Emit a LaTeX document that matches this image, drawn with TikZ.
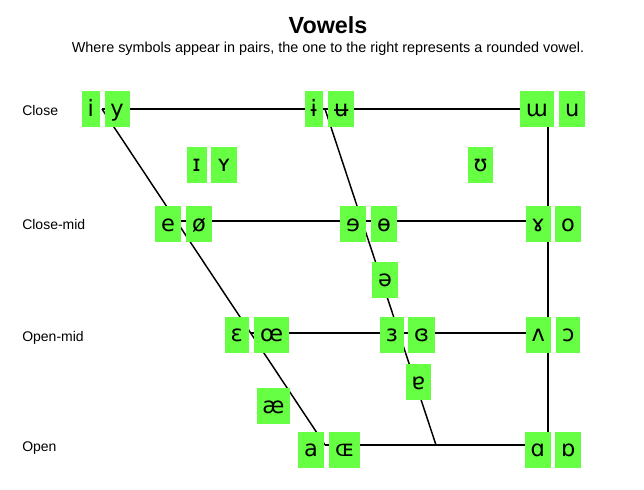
\documentclass[tikz,border=0pt]{standalone}
\usepackage{fontspec}
\setmainfont{Liberation Sans}
\newfontfamily\ipafont{DejaVu Sans}
\definecolor{boxgreen}{RGB}{102,255,68}
\begin{document}
\begin{tikzpicture}[x=0.75pt,y=-0.75pt,
  vowel/.style={fill=boxgreen, text=black, font=\ipafont\fontsize{16.9pt}{20pt}\selectfont,
    inner xsep=4.4pt, inner ysep=0pt, text height=18.75pt, text depth=8.25pt},
  edge/.style={line width=1.1pt, black},
  rowlabel/.style={font=\fontsize{10.5pt}{12pt}\selectfont, anchor=base west, inner sep=0pt},
  titlestyle/.style={font=\bfseries\fontsize{17.5pt}{20pt}\selectfont, anchor=base, inner sep=0pt},
  subtitlestyle/.style={font=\fontsize{10.8pt}{13pt}\selectfont, anchor=base, inner sep=0pt}]
\useasboundingbox (0,0) rectangle (644,490);

% title
\node[titlestyle] (title) at (328,33) {Vowels};
\node[subtitlestyle] (subtitle) at (328,52.5) {Where symbols appear in pairs, the one to the right represents a rounded vowel.};

% row labels
\node[rowlabel] (lclose) at (22,115) {Close};
\node[rowlabel] (lclosemid) at (22,229) {Close-mid};
\node[rowlabel] (lopenmid) at (22,341) {Open-mid};
\node[rowlabel] (lopen) at (22,451) {Open};

% trapezoid vertices
\coordinate (CF) at (102,109);
\coordinate (CC) at (325,109);
\coordinate (CB) at (548,109);
\coordinate (CMF) at (176.3,221);
\coordinate (CMB) at (548,221);
\coordinate (OMF) at (250.7,333);
\coordinate (OMB) at (548,333);
\coordinate (OF) at (325,445);
\coordinate (OC) at (436,445);
\coordinate (OB) at (548,445);

% lines
\draw[edge] (CF) -- (CB);
\draw[edge] (CMF) -- (CMB);
\draw[edge] (OMF) -- (OMB);
\draw[edge] (OF) -- (OB);
\draw[edge] (CF) -- (OF);
\draw[edge] (CC) -- (OC);
\draw[edge] (CB) -- (OB);

% close
\node[vowel, anchor=east] (vi) at (100,109) {i};
\node[vowel, anchor=west] (vy) at (104.3,109) {y};
\node[vowel, anchor=east] (vbari) at (323,109) {ɨ};
\node[vowel, anchor=west] (vbaru) at (328,109) {ʉ};
\node[vowel, anchor=east] (vturnm) at (554,109) {ɯ};
\node[vowel, anchor=west] (vu) at (559,109) {u};

% near-close
\node[vowel, anchor=east] (vsmalli) at (207,164.5) {ɪ};
\node[vowel, anchor=west] (vsmally) at (211,164.5) {ʏ};
\node[vowel] (vupsilon) at (480.5,164.5) {ʊ};

% close-mid
\node[vowel, anchor=east] (ve) at (181,224) {e};
\node[vowel, anchor=west] (voslash) at (186,224) {ø};
\node[vowel, anchor=east] (vreve) at (366,224) {ɘ};
\node[vowel, anchor=west] (vbaro) at (371,224) {ɵ};
\node[vowel, anchor=east] (vramshorn) at (551,224) {ɤ};
\node[vowel, anchor=west] (vo) at (555,224) {o};

% mid
\node[vowel] (vschwa) at (385,279.5) {ə};

% open-mid
\node[vowel, anchor=east] (vepsilon) at (249,334.5) {ɛ};
\node[vowel, anchor=west] (voe) at (254,334.5) {œ};
\node[vowel, anchor=east] (vrevepsilon) at (404,334.5) {ɜ};
\node[vowel, anchor=west] (vclosedrev) at (408,334.5) {ɞ};
\node[vowel, anchor=east] (vturnv) at (551,334.5) {ʌ};
\node[vowel, anchor=west] (vopeno) at (556,334.5) {ɔ};

% near-open
\node[vowel] (vash) at (273.5,406) {æ};
\node[vowel] (vturna) at (418.5,382) {ɐ};

% open
\node[vowel, anchor=east] (va) at (324,449.5) {a};
\node[vowel, anchor=west] (vsmalloe) at (329,449.5) {ɶ};
\node[vowel, anchor=east] (valpha) at (551,449.5) {ɑ};
\node[vowel, anchor=west] (vturnalpha) at (555,449.5) {ɒ};
\end{tikzpicture}
\end{document}
